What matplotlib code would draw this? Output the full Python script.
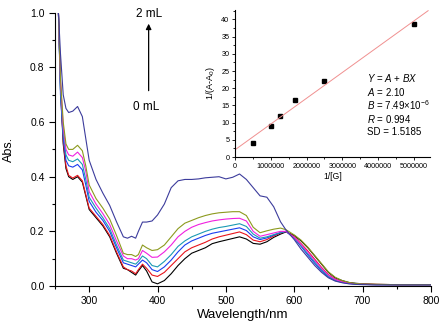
import numpy as np
import matplotlib
matplotlib.use("Agg")
import matplotlib.pyplot as plt
from matplotlib.ticker import MultipleLocator, FormatStrFormatter

plt.rcParams["font.family"] = ["Liberation Sans", "DejaVu Sans"]
plt.rcParams["mathtext.fontset"] = "custom"
plt.rcParams["mathtext.rm"] = "Liberation Sans"
plt.rcParams["mathtext.it"] = "Liberation Sans:italic"

# UV-vis titration spectra (0 mL -> 2 mL)
wl = [255, 258, 262, 266, 270, 276, 283, 290, 295, 300,
      310, 320, 330, 340, 350, 356, 362, 368, 372, 378,
      384, 392, 400, 410, 420, 430, 440, 450, 460, 470,
      480, 490, 500, 510, 520, 530, 540, 550, 560, 570,
      580, 588, 600, 610, 620, 630, 640, 650, 660, 670,
      680, 690, 700, 720, 750, 800]

abs_black = [1.0, 0.72, 0.52, 0.43, 0.40, 0.39, 0.40, 0.38, 0.33, 0.28,
             0.25, 0.22, 0.18, 0.12, 0.065, 0.06, 0.05, 0.04, 0.055, 0.075,
             0.055, 0.015, 0.008, 0.02, 0.045, 0.075, 0.10, 0.12, 0.13, 0.14,
             0.155, 0.162, 0.168, 0.174, 0.18, 0.172, 0.156, 0.153, 0.162, 0.178,
             0.19, 0.198, 0.185, 0.165, 0.14, 0.11, 0.08, 0.05, 0.03, 0.02,
             0.013, 0.01, 0.008, 0.006, 0.005, 0.005]
abs_red = [1.0, 0.74, 0.53, 0.44, 0.405, 0.395, 0.405, 0.385, 0.335, 0.285,
           0.255, 0.225, 0.185, 0.125, 0.07, 0.06, 0.055, 0.045, 0.06, 0.08,
           0.065, 0.04, 0.035, 0.05, 0.075, 0.10, 0.125, 0.14, 0.15, 0.16,
           0.172, 0.18, 0.186, 0.192, 0.198, 0.188, 0.168, 0.162, 0.17, 0.183,
           0.194, 0.2, 0.18, 0.155, 0.128, 0.098, 0.068, 0.042, 0.025, 0.016,
           0.011, 0.008, 0.007, 0.006, 0.005, 0.005]
abs_blue = [1.0, 0.70, 0.54, 0.46, 0.44, 0.435, 0.445, 0.425, 0.37, 0.31,
            0.27, 0.24, 0.20, 0.14, 0.085, 0.08, 0.075, 0.07, 0.08, 0.095,
            0.085, 0.06, 0.053, 0.07, 0.095, 0.125, 0.15, 0.165, 0.175, 0.185,
            0.193, 0.198, 0.203, 0.208, 0.213, 0.203, 0.18, 0.17, 0.176, 0.186,
            0.195, 0.2, 0.175, 0.145, 0.113, 0.083, 0.055, 0.033, 0.02, 0.013,
            0.009, 0.007, 0.006, 0.005, 0.005, 0.005]
abs_teal = [1.0, 0.72, 0.56, 0.48, 0.46, 0.455, 0.465, 0.445, 0.39, 0.325,
            0.285, 0.25, 0.21, 0.15, 0.095, 0.09, 0.085, 0.08, 0.09, 0.11,
            0.10, 0.075, 0.07, 0.09, 0.115, 0.145, 0.165, 0.18, 0.19, 0.2,
            0.208, 0.214, 0.218, 0.223, 0.228, 0.218, 0.19, 0.175, 0.18, 0.188,
            0.196, 0.2, 0.176, 0.148, 0.118, 0.088, 0.06, 0.036, 0.022, 0.014,
            0.01, 0.007, 0.006, 0.005, 0.005, 0.005]
abs_magenta = [1.0, 0.75, 0.58, 0.50, 0.48, 0.475, 0.49, 0.47, 0.42, 0.345,
               0.30, 0.265, 0.225, 0.165, 0.11, 0.10, 0.10, 0.095, 0.10, 0.13,
               0.12, 0.105, 0.106, 0.125, 0.15, 0.18, 0.20, 0.215, 0.225, 0.232,
               0.238, 0.242, 0.245, 0.247, 0.248, 0.238, 0.2, 0.182, 0.188, 0.194,
               0.2, 0.2, 0.178, 0.152, 0.124, 0.094, 0.065, 0.04, 0.024, 0.015,
               0.01, 0.008, 0.006, 0.005, 0.005, 0.005]
abs_olive = [1.0, 0.76, 0.60, 0.52, 0.50, 0.50, 0.515, 0.495, 0.44, 0.37,
             0.32, 0.285, 0.245, 0.185, 0.12, 0.115, 0.115, 0.108, 0.115, 0.15,
             0.14, 0.13, 0.133, 0.15, 0.18, 0.21, 0.23, 0.24, 0.25, 0.258,
             0.264, 0.268, 0.27, 0.272, 0.272, 0.258, 0.215, 0.195, 0.202, 0.208,
             0.212, 0.206, 0.187, 0.168, 0.142, 0.112, 0.082, 0.052, 0.032, 0.02,
             0.013, 0.009, 0.007, 0.006, 0.005, 0.005]
abs_navy = [1.0, 0.85, 0.70, 0.65, 0.635, 0.64, 0.657, 0.62, 0.54, 0.46,
            0.39, 0.34, 0.295, 0.235, 0.18, 0.175, 0.182, 0.175, 0.2, 0.234,
            0.234, 0.238, 0.26, 0.3, 0.36, 0.385, 0.39, 0.39, 0.392, 0.396,
            0.398, 0.40, 0.392, 0.398, 0.41, 0.39, 0.36, 0.33, 0.325, 0.29,
            0.235, 0.205, 0.17, 0.135, 0.105, 0.075, 0.05, 0.03, 0.018, 0.012,
            0.008, 0.006, 0.005, 0.004, 0.004, 0.004]

spectra = [abs_black, abs_red, abs_blue, abs_teal, abs_magenta, abs_olive, abs_navy]
colours = ["#000000", "#e8141c", "#1a3cf0", "#1a9ab4", "#f020e0", "#8c9a1e", "#3c3c9c"]

# Benesi-Hildebrand inset
inv_g = [5.0e5, 1.0e6, 1.25e6, 1.667e6, 2.5e6, 5.0e6]
inv_dA = [4.2, 8.9, 11.8, 16.5, 22.2, 38.6]
fit_A, fit_B = 2.10, 7.49e-6

fig = plt.figure(figsize=(4.48, 3.30), dpi=100)
ax = fig.add_axes([0.1228, 0.1333, 0.839, 0.828])

for y, c in zip(spectra, colours):
    ax.plot(wl, y, color=c, lw=0.8)

ax.set_xlim(250, 800)
ax.set_ylim(0, 1.0)
ax.xaxis.set_major_locator(MultipleLocator(100))
ax.xaxis.set_minor_locator(MultipleLocator(50))
ax.yaxis.set_major_locator(MultipleLocator(0.2))
ax.yaxis.set_minor_locator(MultipleLocator(0.1))
ax.yaxis.set_major_formatter(FormatStrFormatter("%.1f"))
for s in ["top", "right"]:
    ax.spines[s].set_visible(False)
ax.tick_params(which="major", direction="out", length=4, width=0.8, labelsize=7.5)
ax.tick_params(which="minor", direction="out", length=2, width=0.8)
ax.set_xlabel("Wavelength/nm", fontsize=9.5, labelpad=2)
ax.set_ylabel("Abs.", fontsize=9, labelpad=11)

ax.annotate("", xy=(387, 0.96), xytext=(387, 0.715),
            arrowprops=dict(arrowstyle="-|>", color="black", lw=0.9,
                            mutation_scale=8, shrinkA=0, shrinkB=0))
ax.text(387, 0.996, "2 mL", ha="center", va="center", fontsize=8.5)
ax.text(384, 0.655, "0 mL", ha="center", va="center", fontsize=8.5)

ins = fig.add_axes([0.5246, 0.5242, 0.435, 0.445])
ins.plot(inv_g, inv_dA, "s", color="black", ms=2.8)
xfit = np.array([0, 5.4e6])
ins.plot(xfit, fit_A + fit_B * xfit, color="#f09090", lw=0.7)
ins.set_xlim(0, 5.45e6)
ins.set_ylim(0, 42.7)
ins.xaxis.set_major_locator(MultipleLocator(1e6))
ins.xaxis.set_minor_locator(MultipleLocator(5e5))
ins.yaxis.set_major_locator(MultipleLocator(5))
ins.yaxis.set_minor_locator(MultipleLocator(2.5))
ins.xaxis.set_major_formatter(FormatStrFormatter("%d"))
for s in ["top", "right"]:
    ins.spines[s].set_visible(False)
ins.tick_params(which="major", direction="out", length=2.5, width=0.6, labelsize=5.2, pad=1.5)
ins.tick_params(which="minor", direction="out", length=1.3, width=0.6)
ins.set_xlabel("1/[G]", fontsize=6.2, labelpad=1.5)
ins.set_ylabel("1/(A-A$_0$)", fontsize=6.5, labelpad=3)
ins.patch.set_alpha(0)

lines = ["$Y$ = $A$ + $BX$", "$A$ = 2.10", r"$B$ = 7.49$\times$10$^{-6}$",
         "$R$ = 0.994", "SD = 1.5185"]
for i, t in enumerate(lines):
    ins.text(0.675, 0.535 - i * 0.091, t, transform=ins.transAxes,
             fontsize=7, ha="left", va="center")

plt.savefig("out.png", dpi=100)
